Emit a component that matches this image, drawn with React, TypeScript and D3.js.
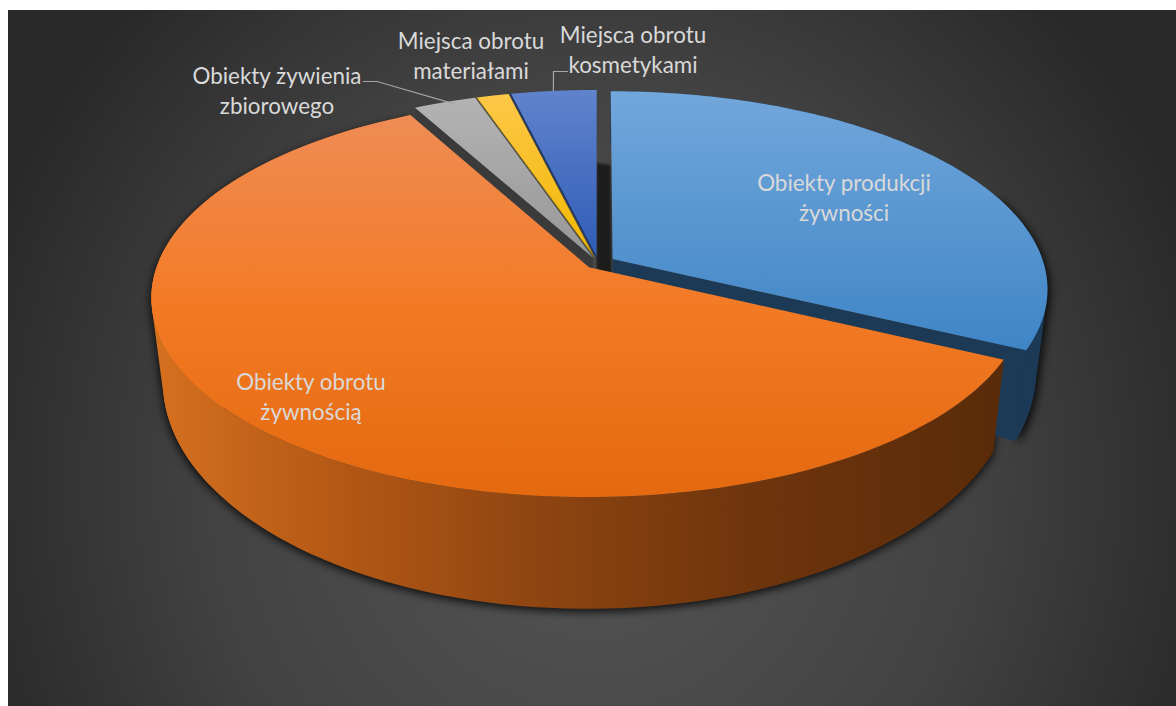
import React from "react";
import * as d3 from "d3";

// ---- data (percent share of each category) ----
const categories = [
  "Obiekty produkcji żywności",
  "Obiekty obrotu żywnością",
  "Obiekty żywienia zbiorowego",
  "Miejsca obrotu materiałami",
  "Miejsca obrotu kosmetykami",
];
const shares = [32.3, 59.9, 2.7, 1.4, 3.7];
const explosions = [0.04, 0.03, 0.03, 0.03, 0.03];

const labelLines = [
  ["Obiekty produkcji", "żywności"],
  ["Obiekty obrotu", "żywnością"],
  ["Obiekty żywienia", "zbiorowego"],
  ["Miejsca obrotu", "materiałami"],
  ["Miejsca obrotu", "kosmetykami"],
];
const labelPos = [
  [844, 191],
  [311, 390],
  [277, 84],
  [471, 49],
  [633, 43],
];

const W = 1176;
const H = 706;
const CX = 598;
const CY = 263;
const K = 0.15;
const TOP = { rx: 431, ry: 194, cy: CY };
const BOT = { rx: 420, ry: 222, cy: CY + 78 };

type Plane = { rx: number; ry: number; cy: number };
type Slice = { start: number; end: number; mid: number; e: number };

const project = (pl: Plane, s: Slice, theta: number, r: number): [number, number] => {
  const u = r * Math.sin(theta) + s.e * Math.sin(s.mid);
  const v = r * Math.cos(theta) + s.e * Math.cos(s.mid);
  const f = 1 / (1 + K * v);
  return [CX + pl.rx * u * f, pl.cy - pl.ry * v * f];
};

const arcs = d3
  .pie<number>()
  .sort(null)
  .startAngle(0)
  .endAngle(2 * Math.PI)(shares);

const slices: Slice[] = arcs.map((a, i) => ({
  start: a.startAngle,
  end: a.endAngle,
  mid: (a.startAngle + a.endAngle) / 2,
  e: explosions[i],
}));

const line = d3.line<[number, number]>();

const arcPts = (pl: Plane, s: Slice, a0: number, a1: number) =>
  d3.range(0, 121).map((i) => project(pl, s, a0 + ((a1 - a0) * i) / 120, 1));

const topPath = (s: Slice) =>
  line([project(TOP, s, s.start, 0), ...arcPts(TOP, s, s.start, s.end)]) + "Z";

const outerWall = (s: Slice, a0 = s.start, a1 = s.end) =>
  line([...arcPts(TOP, s, a0, a1), ...arcPts(BOT, s, a0, a1).reverse()]) + "Z";

// silhouette between the two rims, where they cross near the sides of the pie
const hullWall = (s: Slice, a0: number, a1: number) => {
  const hull = d3.polygonHull([...arcPts(TOP, s, a0, a1), ...arcPts(BOT, s, a0, a1)]);
  return hull ? line(hull) + "Z" : "";
};

const cutFace = (s: Slice, theta: number) =>
  line([
    project(TOP, s, theta, 0),
    project(TOP, s, theta, 1),
    project(BOT, s, theta, 1),
    project(BOT, s, theta, 0),
  ]) + "Z";

const edge = (s: Slice, theta: number) =>
  line([project(TOP, s, theta, 0), project(TOP, s, theta, 1)]) ?? "";

const gradTop = [
  ["#72a7db", "#3f85c6"],
  ["#ef8c55", "#f37a25", "#e4690f"],
  ["#b3b3b3", "#979797"],
  ["#fdc748", "#f2b800"],
  ["#6083cd", "#2f5db6"],
];

const FONT = "Lato, Carlito, Calibri, sans-serif";
const rad = (d: number) => (d * Math.PI) / 180;

export default function App() {
  const [blue, orange, grey, yellow, navy] = slices;
  const gapQuad =
    line([
      project(BOT, blue, 0, 0.88),
      project(BOT, navy, 0, 0.88),
      project(TOP, navy, 0, 0),
      project(BOT, navy, 0, 0),
      project(BOT, blue, 0, 0),
    ]) + "Z";

  const greyAnchor = project(TOP, grey, grey.mid + 0.02, 0.98);
  const navyAnchor = project(TOP, navy, navy.mid, 1.0);

  const orangeLeft = hullWall(orange, rad(235), rad(300));
  const blueRight = hullWall(blue, rad(70), blue.end);

  return (
    <svg
      width={W}
      height={H}
      viewBox={`0 0 ${W} ${H}`}
      style={{ position: "absolute", left: 0, top: 0, display: "block" }}
    >
      <defs>
        <radialGradient id="bg" gradientUnits="userSpaceOnUse" cx={0} cy={0} r={1}
          gradientTransform="translate(592 480) scale(640 680)">
          <stop offset="0" stopColor="#565656" />
          <stop offset="0.6" stopColor="#424242" />
          <stop offset="1" stopColor="#292929" />
        </radialGradient>
        {gradTop.map((stops, i) => (
          <linearGradient key={i} id={`top${i}`} x1="0" y1="0" x2="0" y2="1">
            {stops.map((c, j) => (
              <stop key={j} offset={j / (stops.length - 1)} stopColor={c} />
            ))}
          </linearGradient>
        ))}
        <linearGradient id="wall" gradientUnits="userSpaceOnUse" x1={155} y1={0} x2={1000} y2={0}>
          <stop offset="0" stopColor="#d5701f" />
          <stop offset="0.2" stopColor="#b65a16" />
          <stop offset="0.45" stopColor="#8f4511" />
          <stop offset="0.7" stopColor="#6f350d" />
          <stop offset="1" stopColor="#5a2b09" />
        </linearGradient>
        <filter id="blur" x="-10%" y="-10%" width="120%" height="120%">
          <feGaussianBlur stdDeviation="4" />
        </filter>
        <filter id="soft" x="-50%" y="-10%" width="200%" height="120%">
          <feGaussianBlur stdDeviation="1.2" />
        </filter>
      </defs>

      <rect x={8} y={10} width={W - 8} height={H - 10} fill="url(#bg)" />

      {/* soft drop shadow */}
      <g filter="url(#blur)" opacity={0.8} fill="#000">
        <path d={blueRight} transform="translate(3 3)" />
        <path d={outerWall(orange)} transform="translate(0 3)" />
        <path d={orangeLeft} transform="translate(-1 3)" />
      </g>

      {/* shadow visible through the gap behind the first slice */}
      <path d={gapQuad} fill="#1f1f1f" filter="url(#soft)" />

      {/* cut face of the grey slice, seen through the gap above orange */}
      <path d={cutFace(grey, grey.start)} fill="#3a3a3a" />

      {/* blue slice walls */}
      <path d={outerWall(blue)} fill="#1c3a56" />
      <path d={blueRight} fill="#1c3a56" />
      <path d={cutFace(blue, blue.end)} fill="#1c3a56" />

      {/* small slices */}
      <path d={topPath(grey)} fill="url(#top2)" />
      <path d={topPath(yellow)} fill="url(#top3)" />
      <path d={topPath(navy)} fill="url(#top4)" />
      <path d={edge(yellow, yellow.start)} stroke="#7d6a22" strokeWidth={1} fill="none" />
      <path d={edge(navy, navy.start)} stroke="#1b3566" strokeWidth={1.2} fill="none" />

      {/* blue top */}
      <path d={topPath(blue)} fill="url(#top0)" />

      {/* orange */}
      <path d={orangeLeft} fill="url(#wall)" />
      <path d={outerWall(orange)} fill="url(#wall)" />
      <path d={topPath(orange)} fill="url(#top1)" />

      {/* leader lines */}
      <g fill="none" stroke="#a6a6a6" strokeWidth={1.2}>
        <path d={line([[363, 81.5], [377, 81.5], greyAnchor]) ?? ""} />
        <path d={line([[568, 71.5], [553.5, 71.5], navyAnchor]) ?? ""} />
      </g>

      {/* labels */}
      <g fontFamily={FONT} fontSize={22.4} fill="#d9d9d9" textAnchor="middle">
        {categories.map((c, i) => (
          <text key={c} x={labelPos[i][0]} y={labelPos[i][1]}>
            {labelLines[i].map((t, j) => (
              <tspan key={j} x={labelPos[i][0]} dy={j === 0 ? 0 : 29.5}>
                {t}
              </tspan>
            ))}
          </text>
        ))}
      </g>
    </svg>
  );
}
